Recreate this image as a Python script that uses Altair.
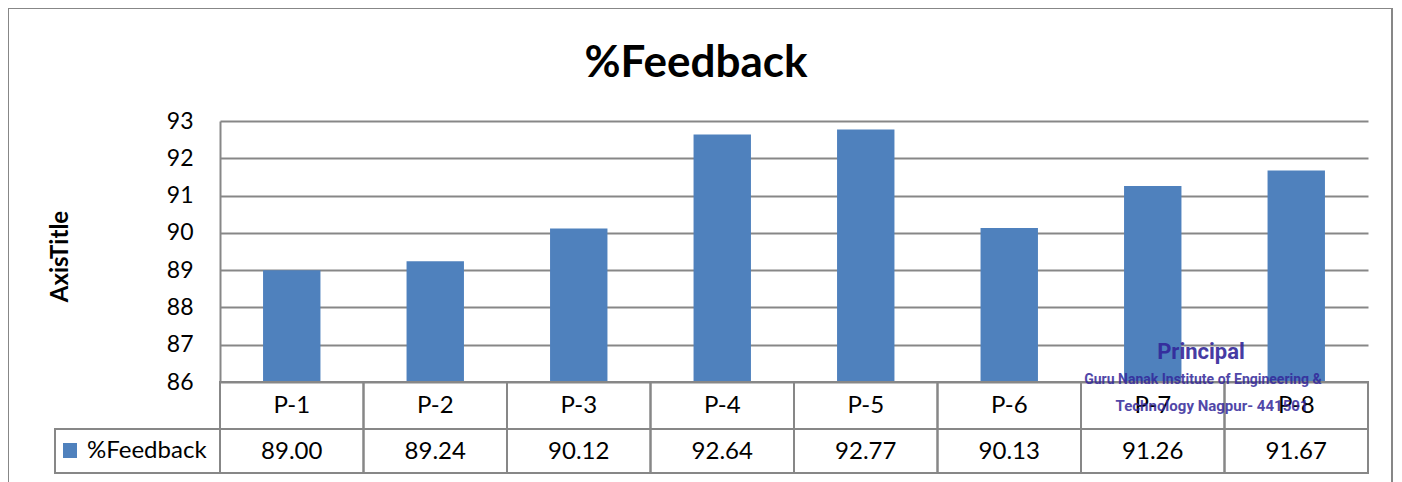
import altair as alt
import pandas as pd

# ---- data ----
CATEGORIES = ["P-1", "P-2", "P-3", "P-4", "P-5", "P-6", "P-7", "P-8"]
VALUES = [89.00, 89.24, 90.12, 92.64, 92.77, 90.13, 91.26, 91.67]
Y_TICKS = [86, 87, 88, 89, 90, 91, 92, 93]
Y_MIN, Y_MAX = 86, 93
TITLE = "%Feedback"
Y_TITLE = "AxisTitle"
SERIES = "%Feedback"
STAMP_LINES = ["Principal", "Guru Nanak Institute of Engineering &", "Technology Nagpur- 441501"]

df = pd.DataFrame({"cat": CATEGORIES, "val": VALUES})
one = pd.DataFrame({"t": [TITLE], "s": [SERIES]})
stamp_df = pd.DataFrame({"line": STAMP_LINES})

BLUE = "#4F81BD"
GRAY = "#878787"
FONT = "Lato"
W, H = 1148, 261

xenc = alt.X("cat:N", sort=CATEGORIES, scale=alt.Scale(paddingInner=0, paddingOuter=0), axis=None)

border = alt.Chart(one).mark_rect(fill="transparent", stroke=GRAY, strokeWidth=2).encode(
    x=alt.value(-212), x2=alt.value(1172), y=alt.value(-113), y2=alt.value(420)
)

bars = alt.Chart(df).mark_bar(color=BLUE, width=alt.RelativeBandSize(0.4)).encode(
    x=xenc,
    y=alt.Y(
        "val:Q",
        scale=alt.Scale(domain=[Y_MIN, Y_MAX], nice=False, zero=False),
        axis=alt.Axis(
            values=Y_TICKS,
            grid=True, gridColor=GRAY, gridWidth=2, gridOpacity=1,
            domain=True, domainColor=GRAY, domainWidth=2,
            ticks=False, tickSize=0,
            labelFont=FONT, labelFontSize=23, labelColor="black", labelPadding=27,
            title=Y_TITLE, titleFont=FONT, titleFontSize=24, titleFontWeight="bold",
            titleColor="black", titleAngle=270, titleAlign="center", titleBaseline="middle",
            titleX=-160, titleY=135,
        ),
    ),
    y2=alt.datum(Y_MIN),
)

row1 = alt.Chart(df).mark_rect(fill="transparent", stroke=GRAY, strokeWidth=2).encode(
    x=xenc, y=alt.value(261), y2=alt.value(308)
)
row2 = alt.Chart(df).mark_rect(fill="transparent", stroke=GRAY, strokeWidth=2).encode(
    x=xenc, y=alt.value(308), y2=alt.value(352)
)
cat_text = alt.Chart(df).mark_text(font=FONT, fontSize=24, color="black", baseline="middle").encode(
    x=xenc, y=alt.value(285), text="cat:N"
)
val_text = alt.Chart(df).mark_text(font=FONT, fontSize=24, color="black", baseline="middle").encode(
    x=xenc, y=alt.value(331), text=alt.Text("val:Q", format=".2f")
)
header_cell = alt.Chart(one).mark_rect(fill="transparent", stroke=GRAY, strokeWidth=2).encode(
    x=alt.value(-165), x2=alt.value(0), y=alt.value(308), y2=alt.value(352)
)
legend_sq = alt.Chart(one).mark_rect(color=BLUE).encode(
    x=alt.value(-157), x2=alt.value(-143), y=alt.value(322), y2=alt.value(337)
)
legend_txt = alt.Chart(one).mark_text(font=FONT, fontSize=24, color="black", align="left", baseline="middle").encode(
    x=alt.value(-133), y=alt.value(330), text="s:N"
)
title_txt = alt.Chart(one).mark_text(font=FONT, fontSize=44, fontWeight="bold", color="black",
                                     align="center", baseline="alphabetic").encode(
    x=alt.value(476), y=alt.value(-44), text="t:N"
)

STAMP_FONT = "Roboto"
STAMP_COLOR = "#33279a"
stamp1 = alt.Chart(stamp_df).transform_filter(alt.datum.line == STAMP_LINES[0]).mark_text(
    font=STAMP_FONT, fontSize=22, fontWeight="bold", color=STAMP_COLOR, opacity=0.9,
    align="center", baseline="middle").encode(x=alt.value(981), y=alt.value(231), text="line:N")
stamp2 = alt.Chart(stamp_df).transform_filter(alt.datum.line == STAMP_LINES[1]).mark_text(
    font=STAMP_FONT, fontSize=14, fontWeight="bold", color=STAMP_COLOR, opacity=0.85,
    align="center", baseline="middle").encode(x=alt.value(983), y=alt.value(259), text="line:N")
stamp3 = alt.Chart(stamp_df).transform_filter(alt.datum.line == STAMP_LINES[2]).mark_text(
    font=STAMP_FONT, fontSize=15, fontWeight="bold", color=STAMP_COLOR, opacity=0.85,
    align="center", baseline="middle").encode(x=alt.value(992), y=alt.value(285), text="line:N")

chart = alt.layer(
    border, bars, row1, row2, cat_text, val_text, header_cell, legend_sq, legend_txt, title_txt,
    stamp1, stamp2, stamp3,
).properties(
    width=W, height=H,
    autosize=alt.AutoSizeParams(type="none"),
    padding={"left": 212, "top": 113, "right": 26, "bottom": 100},
).configure_view(stroke=None)

chart.save("out.html", embed_options={"renderer": "svg", "actions": False})
